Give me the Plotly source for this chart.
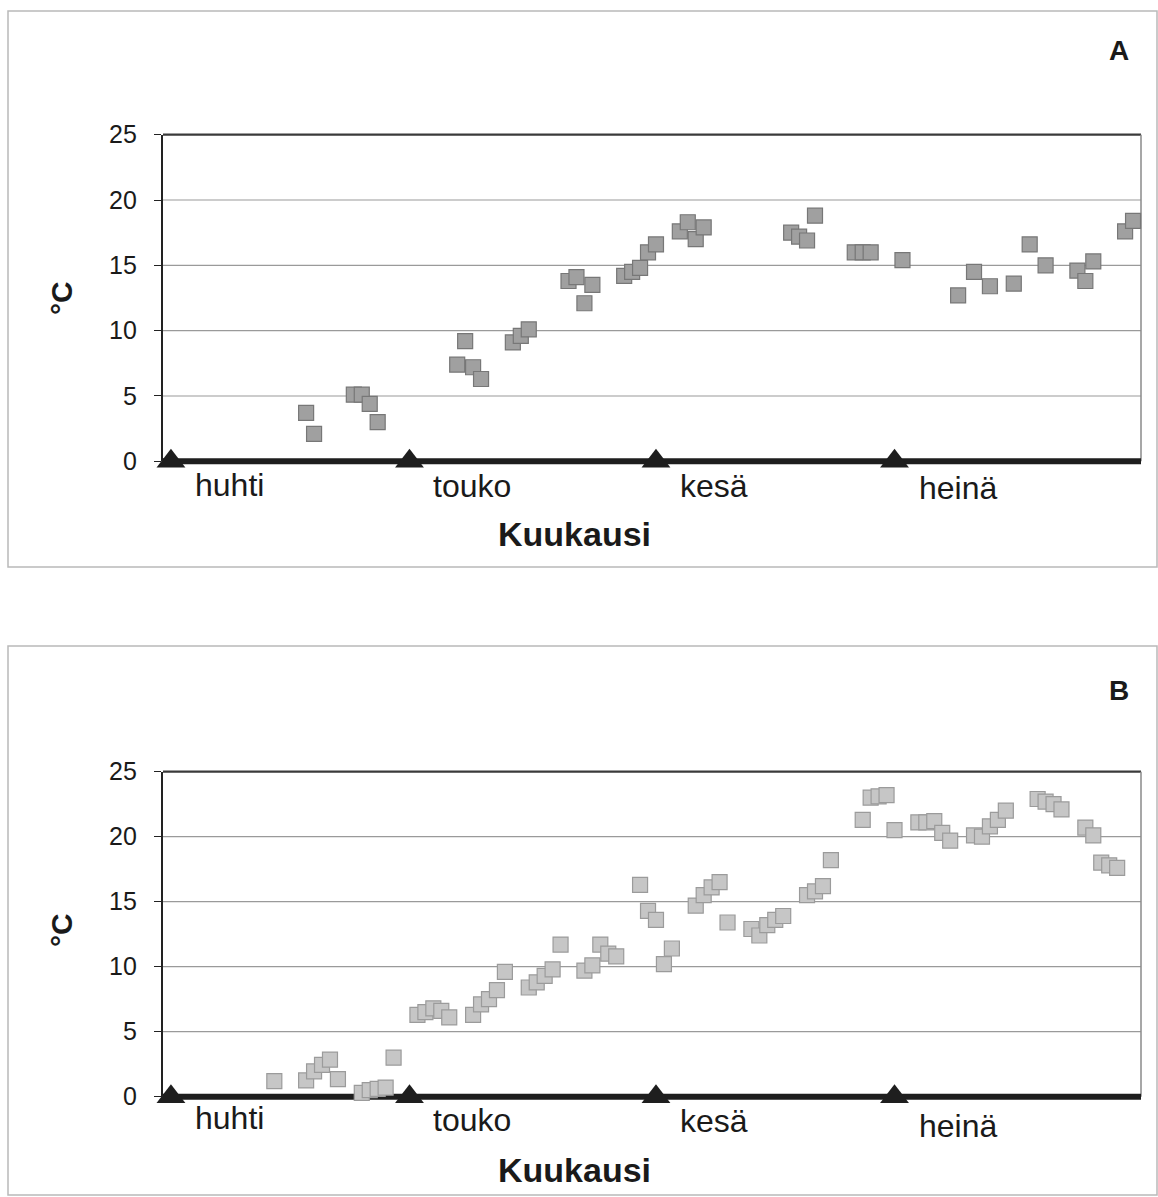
import plotly.graph_objects as go

# Day offsets counted from 1 April; values are daily water temperatures (°C)
days_a = [17, 18, 23, 24, 25, 26, 36, 37, 38, 39, 43, 44, 45, 50, 51, 52, 53,
          57, 58, 59, 60, 61, 64, 65, 66, 67, 78, 79, 80, 81, 86, 87, 88, 92,
          99, 101, 103, 106, 108, 110, 114, 115, 116, 120, 121]
temp_a = [3.7, 2.1, 5.1, 5.1, 4.4, 3.0, 7.4, 9.2, 7.2, 6.3, 9.1, 9.6, 10.1,
          13.8, 14.1, 12.1, 13.5, 14.2, 14.5, 14.8, 16.0, 16.6, 17.6, 18.3,
          17.0, 17.9, 17.5, 17.2, 16.9, 18.8, 16.0, 16.0, 16.0, 15.4, 12.7,
          14.5, 13.4, 13.6, 16.6, 15.0, 14.6, 13.8, 15.3, 17.6, 18.4]

days_b = [13, 17, 18, 19, 20, 21, 24, 25, 26, 27, 28, 31, 32, 33, 34, 35, 38,
          39, 40, 41, 42, 45, 46, 47, 48, 49, 52, 53, 54, 55, 56, 59, 60, 61,
          62, 63, 66, 67, 68, 69, 70, 73, 74, 75, 76, 77, 80, 81, 82, 83, 87,
          88, 89, 90, 91, 94, 95, 96, 97, 98, 101, 102, 103, 104, 105, 109,
          110, 111, 112, 115, 116, 117, 118, 119]
temp_b = [1.2, 1.25, 1.95, 2.45, 2.85, 1.35, 0.3, 0.5, 0.6, 0.7, 3.0, 6.3, 6.5,
          6.8, 6.6, 6.1, 6.3, 7.1, 7.5, 8.2, 9.6, 8.4, 8.8, 9.3, 9.8, 11.7,
          9.7, 10.1, 11.7, 11.0, 10.8, 16.3, 14.3, 13.6, 10.2, 11.4, 14.7,
          15.5, 16.1, 16.5, 13.4, 12.9, 12.4, 13.2, 13.6, 13.9, 15.5, 15.8,
          16.2, 18.2, 21.3, 23.0, 23.1, 23.2, 20.5, 21.1, 21.1, 21.2, 20.3,
          19.7, 20.1, 20.0, 20.8, 21.3, 22.0, 22.9, 22.7, 22.5, 22.1, 20.7,
          20.1, 18.0, 17.8, 17.6]

# First day of each month (offset from 1 April) and month names
month_start = [0, 30, 61, 91]
month_names = ["huhti", "touko", "kesä", "heinä"]

y_ticks = [0, 5, 10, 15, 20, 25]
panel_letters = ["A", "B"]

W, H = 1158, 1197
FONT = "Liberation Sans, Arial, sans-serif"


def px(x):
    return x / W


def py(y):
    return 1 - y / H


# pixel geometry of the two panels
panels = [
    dict(frame=(8, 11, 1157, 567), top=134.7, bottom=461.3,
         xlabel_y=534, ylabel_y=298, letter_y=51,
         month_dy=[24, 25, 25, 27], marker="#a0a0a0", edge="#777777"),
    dict(frame=(8, 646, 1157, 1195), top=771.7, bottom=1096.7,
         xlabel_y=1170, ylabel_y=930, letter_y=690,
         month_dy=[21, 23, 24, 29], marker="#c6c6c6", edge="#9b9b9b"),
]
plot_left, plot_right = 163, 1141

fig = go.Figure()
series = [(days_a, temp_a), (days_b, temp_b)]
shapes = []
annotations = []

for i, (p, (dx, ty)) in enumerate(zip(panels, series)):
    xa = "x" if i == 0 else "x2"
    ya = "y" if i == 0 else "y2"
    axkey = "xaxis" if i == 0 else "xaxis2"
    aykey = "yaxis" if i == 0 else "yaxis2"

    x0, y0, x1, y1 = p["frame"]
    # outer frame of the panel
    shapes.append(dict(type="rect", xref="paper", yref="paper",
                       x0=px(x0), x1=px(x1), y0=py(y1), y1=py(y0),
                       line=dict(color="#b9b9b9", width=1.5), layer="below"))
    # horizontal gridlines at the inner ticks
    for t in y_ticks[1:-1]:
        shapes.append(dict(type="line", xref="paper", yref=ya,
                           x0=px(plot_left), x1=px(plot_right), y0=t, y1=t,
                           line=dict(color="#9a9a9a", width=1.2),
                           layer="below"))
    # top and right borders of the plot area
    shapes.append(dict(type="line", xref="paper", yref="paper",
                       x0=px(plot_left), x1=px(plot_right),
                       y0=py(p["top"]), y1=py(p["top"]),
                       line=dict(color="#3a3a3a", width=2.2), layer="below"))
    shapes.append(dict(type="line", xref="paper", yref="paper",
                       x0=px(plot_right), x1=px(plot_right),
                       y0=py(p["bottom"]), y1=py(p["top"]),
                       line=dict(color="#8a8a8a", width=1.5), layer="below"))
    # thick baseline at 0 °C
    shapes.append(dict(type="line", xref="paper", yref="paper",
                       x0=px(plot_left), x1=px(plot_right),
                       y0=py(p["bottom"]), y1=py(p["bottom"]),
                       line=dict(color="#1e1e1e", width=6), layer="below"))

    # temperature points
    fig.add_trace(go.Scatter(
        x=dx, y=ty, mode="markers", xaxis=xa, yaxis=ya,
        marker=dict(symbol="square", size=15, color=p["marker"],
                    line=dict(color=p["edge"], width=1.2)),
        cliponaxis=False, showlegend=False, hoverinfo="x+y"))

    # month-start markers on the baseline
    fig.add_trace(go.Scatter(
        x=month_start, y=[0] * len(month_start), mode="markers",
        xaxis=xa, yaxis=ya,
        marker=dict(symbol="triangle-up", size=25, color="#1e1e1e",
                    line=dict(width=0)),
        cliponaxis=False, showlegend=False, hoverinfo="skip"))

    fig.update_layout({
        axkey: dict(domain=[px(plot_left), px(plot_right)], range=[-1, 122],
                    showgrid=False, zeroline=False, showticklabels=False,
                    ticks="", showline=False, anchor=ya, fixedrange=True,
                    automargin=False),
        aykey: dict(domain=[py(p["bottom"]), py(p["top"])], range=[0, 25],
                    tickvals=y_ticks, ticks="outside", ticklen=7,
                    tickwidth=1.3, tickcolor="#222", showgrid=False,
                    zeroline=False, showline=True, linecolor="#222",
                    linewidth=2.2, ticklabelstandoff=12,
                    tickfont=dict(family=FONT, size=25, color="#1a1a1a"),
                    anchor=xa, fixedrange=True, automargin=False),
    })

    for m, name, dy in zip(month_start, month_names, p["month_dy"]):
        annotations.append(dict(
            x=m, y=0, xref=xa, yref=ya, text=name, showarrow=False,
            xanchor="left", yanchor="middle", xshift=22, yshift=-dy,
            font=dict(family=FONT, size=32, color="#1a1a1a")))

    annotations.append(dict(
        x=px(574), y=py(p["xlabel_y"]), xref="paper", yref="paper",
        text="<b>Kuukausi</b>", showarrow=False, xanchor="center",
        yanchor="middle", font=dict(family=FONT, size=34, color="#1a1a1a")))
    annotations.append(dict(
        x=px(61), y=py(p["ylabel_y"]), xref="paper", yref="paper",
        text="<b>°C</b>", showarrow=False, textangle=-90, xanchor="center",
        yanchor="middle", font=dict(family=FONT, size=30, color="#1a1a1a")))
    annotations.append(dict(
        x=px(1119), y=py(p["letter_y"]), xref="paper", yref="paper",
        text=f"<b>{panel_letters[i]}</b>", showarrow=False, xanchor="center",
        yanchor="middle", font=dict(family=FONT, size=28, color="#1a1a1a")))

fig.update_layout(
    width=W, height=H, autosize=False,
    margin=dict(l=0, r=0, t=0, b=0, autoexpand=False),
    paper_bgcolor="white", plot_bgcolor="rgba(0,0,0,0)",
    shapes=shapes, annotations=annotations, showlegend=False)

fig.write_html("out.html", config={"displayModeBar": False})
